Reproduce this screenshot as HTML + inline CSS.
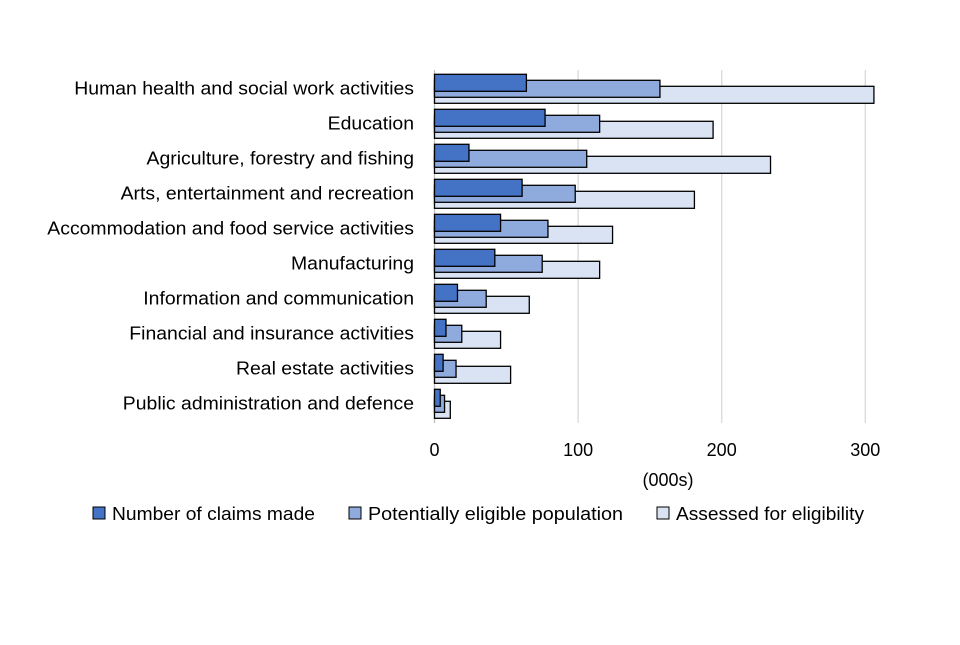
<!DOCTYPE html>
<html><head><meta charset="utf-8"><style>
body{margin:0;background:#fff;font-family:"Liberation Sans",sans-serif}
svg text{font-family:"Liberation Sans",sans-serif;fill:#000}
</style></head><body>
<svg width="960" height="640">
<g id="grid"></g><g id="bars"></g><g id="labels"></g><g id="ticks"></g>
<text x="668" y="486" font-size="18" text-anchor="middle">(000s)</text>
<g>
<g><rect x="93" y="507" width="12" height="12" fill="#4472c4" stroke="#000"/><text x="112" y="520" font-size="18" textLength="203" lengthAdjust="spacingAndGlyphs">Number of claims made</text></g>
<g><rect x="349" y="507" width="12" height="12" fill="#8faadc" stroke="#000"/><text x="368" y="520" font-size="18" textLength="255" lengthAdjust="spacingAndGlyphs">Potentially eligible population</text></g>
<g><rect x="657" y="507" width="12" height="12" fill="#dae3f3" stroke="#000"/><text x="676" y="520" font-size="18" textLength="188" lengthAdjust="spacingAndGlyphs">Assessed for eligibility</text></g>
</g>
</svg>
<script>
const categories=["Human health and social work activities","Education","Agriculture, forestry and fishing","Arts, entertainment and recreation","Accommodation and food service activities","Manufacturing","Information and communication","Financial and insurance activities","Real estate activities","Public administration and defence"];
const claims=[64,77,24,61,46,42,16,8,6,4];
const eligible=[157,115,106,98,79,75,36,19,15,7];
const assessed=[306,194,234,181,124,115,66,46,53,11];
const ticks=[0,100,200,300];
const NS="http://www.w3.org/2000/svg";
const x=v=>434.5+v*1.436;
const yTop=i=>74.3+i*35;
function mk(tag,attrs,parent){const e=document.createElementNS(NS,tag);for(const k in attrs)e.setAttribute(k,attrs[k]);parent.appendChild(e);return e;}
const grid=document.getElementById('grid'),bars=document.getElementById('bars'),labels=document.getElementById('labels'),tk=document.getElementById('ticks');
ticks.forEach(t=>{
 const l=mk('line',{x1:x(t),x2:x(t),y1:70,y2:423,stroke:t===0?'#bfbfbf':'#d9d9d9','stroke-width':1.3},grid);
 
 
 const tx=mk('text',{x:x(t),y:456,'font-size':18,'text-anchor':'middle'},tk);tx.textContent=t;
 
 
});
const series=[[assessed,'#dae3f3',12,'assessed'],[eligible,'#8faadc',6,'eligible'],[claims,'#4472c4',0,'claims']];
categories.forEach((c,i)=>{
 series.forEach(([arr,col,off,nm])=>{
  const r=mk('rect',{x:x(0),y:yTop(i)+off,width:x(arr[i])-x(0),height:17,fill:col,stroke:'#000','stroke-width':1.3},bars);
  
  
 });
 const t=mk('text',{x:414,y:yTop(i)+20,'font-size':18,'text-anchor':'end'},labels);t.textContent=c;
 
 
 const w=t.getComputedTextLength();
 t.setAttribute('textLength',(w*1.078).toFixed(1));
 t.setAttribute('lengthAdjust','spacingAndGlyphs');
});
</script>
</body></html>
